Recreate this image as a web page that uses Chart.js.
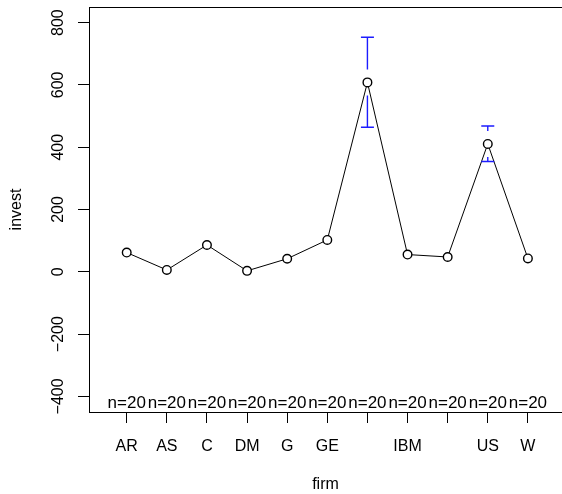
<!DOCTYPE html>
<html><head><meta charset="utf-8">
<script src="https://cdn.jsdelivr.net/npm/chart.js@4"></script>
<style>html,body{margin:0;padding:0;overflow:hidden;background:#fff}#wrap{width:562px;height:494px}</style>
</head><body><div id="wrap"><canvas id="c" width="562" height="494"></canvas></div>
<script>
const firms = ["AR","AS","C","DM","G","GE","GM","IBM","UO","US","W"];
const tickLabels = ["AR","AS","C","DM","G","GE","","IBM","","US","W"];
const meanInvest = [61.8, 5.9, 86.1, 3.1, 41.9, 102.3, 608.0, 55.4, 47.6, 410.5, 42.9];
const ciLower = [52.9, 4.5, 66.1, 2.0, 33.0, 79.6, 464.0, 34.4, 36.4, 354.0, 34.0];
const ciUpper = [70.7, 7.3, 106.1, 4.2, 50.8, 125.0, 753.0, 76.4, 58.8, 468.0, 51.8];
const counts = [20,20,20,20,20,20,20,20,20,20,20];
const yTicks = [-400,-200,0,200,400,600,800];

const FONT = 'Liberation Sans, Arial, sans-serif';
const BLUE = '#1c1cff';

const extras = {
  id: 'extras',
  afterDatasetsDraw(chart) {
    const ctx = chart.ctx, xs = chart.scales.x, ys = chart.scales.y;
    const gap = 13, cap = 6.5;
    ctx.save();
    ctx.strokeStyle = BLUE; ctx.lineWidth = 1.4;
    firms.forEach((f, i) => {
      const px = xs.getPixelForValue(i + 1);
      const py = ys.getPixelForValue(meanInvest[i]);
      const lo = ys.getPixelForValue(ciLower[i]);
      const hi = ys.getPixelForValue(ciUpper[i]);
      if (hi < py - gap) {
        ctx.beginPath(); ctx.moveTo(px, py - gap); ctx.lineTo(px, hi);
        ctx.moveTo(px - cap, hi); ctx.lineTo(px + cap, hi); ctx.stroke();
      }
      if (lo > py + gap) {
        ctx.beginPath(); ctx.moveTo(px, py + gap); ctx.lineTo(px, lo);
        ctx.moveTo(px - cap, lo); ctx.lineTo(px + cap, lo); ctx.stroke();
      }
    });
    ctx.restore();
  },
  afterDraw(chart) {
    const ctx = chart.ctx, xs = chart.scales.x, ys = chart.scales.y;
    const ca = chart.chartArea;
    ctx.save();
    ctx.strokeStyle = '#000'; ctx.lineWidth = 1;
    ctx.beginPath(); ctx.moveTo(ca.left, ca.top + 0.5); ctx.lineTo(chart.width, ca.top + 0.5); ctx.stroke();
    ctx.fillStyle = '#000';
    ctx.font = '17px ' + FONT;
    ctx.textAlign = 'center'; ctx.textBaseline = 'middle';
    firms.forEach((f, i) => {
      ctx.fillText('n=' + counts[i], xs.getPixelForValue(i + 1), 403);
    });
    ctx.font = '16px ' + FONT;
    yTicks.forEach(v => {
      const py = ys.getPixelForValue(v);
      ctx.save();
      ctx.translate(59, py);
      ctx.rotate(-Math.PI / 2);
      ctx.fillText(String(v).replace('-', '\u2212'), 0, 0);
      ctx.restore();
    });
    ctx.restore();
  }
};

new Chart(document.getElementById('c'), {
  type: 'scatter',
  data: {
    datasets: [{
      data: meanInvest.map((v, i) => ({x: i + 1, y: v})),
      showLine: true,
      borderColor: '#000',
      borderWidth: 1,
      pointRadius: 4.3,
      pointBorderWidth: 1.4,
      pointBackgroundColor: '#fff',
      pointBorderColor: '#000'
    }]
  },
  options: {
    responsive: false,
    animation: false,
    devicePixelRatio: 1,
    layout: {autoPadding: false, padding: {top: 7, right: 0, bottom: 0, left: 0}},
    plugins: {legend: {display: false}, tooltip: {enabled: false}},
    scales: {
      x: {
        type: 'linear', position: 'bottom', min: 0.06, max: 11.85,
        afterBuildTicks: s => { s.ticks = firms.map((f, i) => ({value: i + 1})); },
        ticks: {autoSkip: false, maxRotation: 0, minRotation: 0, padding: 14, color: '#000',
          font: {family: FONT, size: 16}, callback: (v, i) => tickLabels[i]},
        grid: {display: true, drawOnChartArea: false, drawTicks: true, tickLength: 11, color: '#000', tickColor: '#000'},
        border: {display: true, color: '#000', width: 1},
        title: {display: true, text: 'firm', color: '#000', font: {family: FONT, size: 16}, padding: 0},
        afterFit: s => { s.height = 82; s.paddingLeft = 0; s.paddingRight = 0; }
      },
      y: {
        type: 'linear', position: 'left', min: -450, max: 850,
        afterBuildTicks: s => { s.ticks = yTicks.map(v => ({value: v})); },
        ticks: {color: 'rgba(0,0,0,0)', font: {family: FONT, size: 16}},
        grid: {display: true, drawOnChartArea: false, drawTicks: true, tickLength: 11, color: '#000', tickColor: '#000'},
        border: {display: true, color: '#000', width: 1},
        title: {display: true, text: 'invest', color: '#000', font: {family: FONT, size: 16}, padding: {top: 7, bottom: 0}},
        afterFit: s => { s.width = 89; s.paddingTop = 0; s.paddingBottom = 0; }
      }
    }
  },
  plugins: [extras]
});
</script></body></html>
